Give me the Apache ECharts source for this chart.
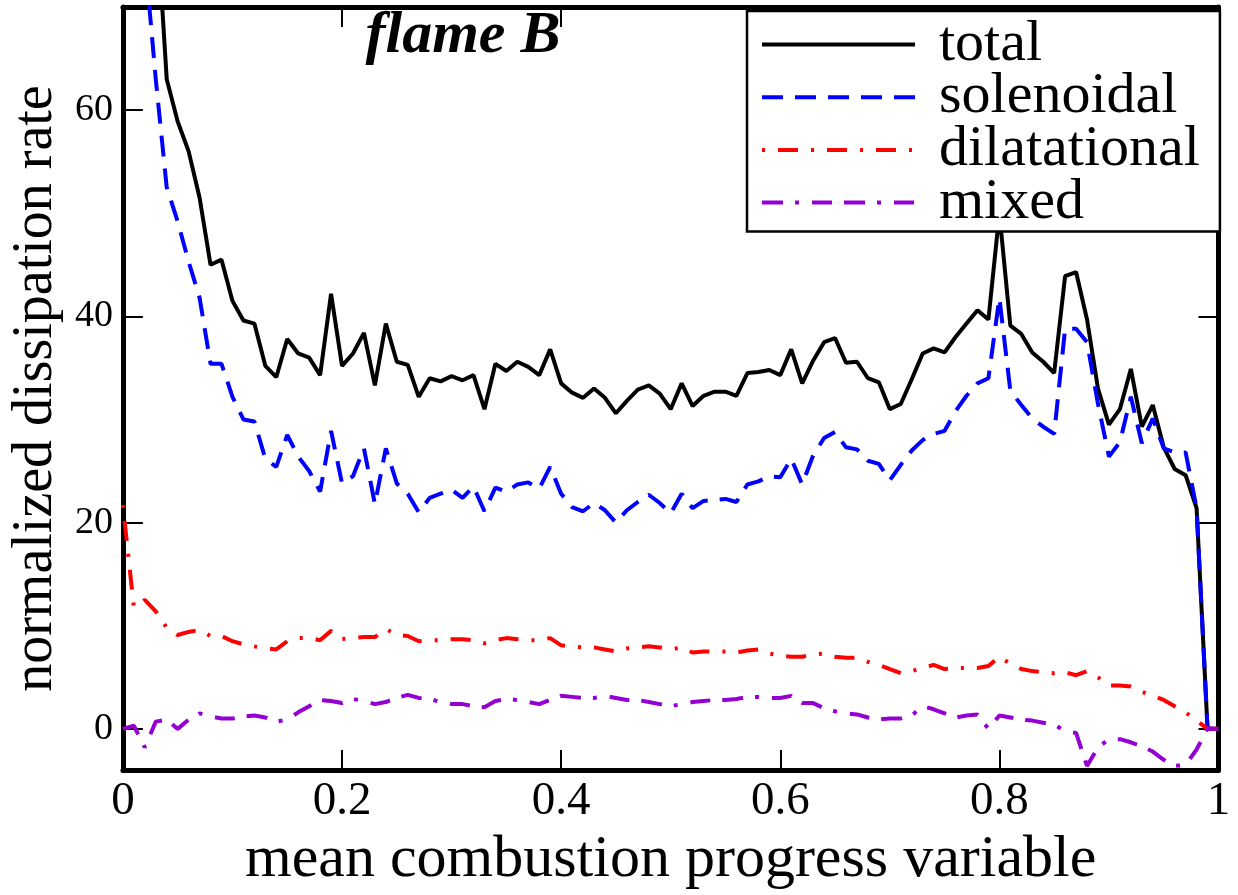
<!DOCTYPE html>
<html><head><meta charset="utf-8">
<script src="https://cdn.jsdelivr.net/npm/echarts@6/dist/echarts.min.js"></script>
<style>html,body{margin:0;padding:0;background:#fff}#c{width:1238px;height:895px}</style>
</head><body><div id="c"></div>
<script>
const progress = [0,0.01,0.02,0.03,0.04,0.05,0.06,0.07,0.08,0.09,
 0.10,0.11,0.12,0.13,0.14,0.15,0.16,0.17,0.18,0.19,
 0.20,0.21,0.22,0.23,0.24,0.25,0.26,0.27,0.28,0.29,
 0.30,0.31,0.32,0.33,0.34,0.35,0.36,0.37,0.38,0.39,
 0.40,0.41,0.42,0.43,0.44,0.45,0.46,0.47,0.48,0.49,
 0.50,0.51,0.52,0.53,0.54,0.55,0.56,0.57,0.58,0.59,
 0.60,0.61,0.62,0.63,0.64,0.65,0.66,0.67,0.68,0.69,
 0.70,0.71,0.72,0.73,0.74,0.75,0.76,0.77,0.78,0.79,
 0.80,0.81,0.82,0.83,0.84,0.85,0.86,0.87,0.88,0.89,
 0.90,0.91,0.92,0.93,0.94,0.95,0.96,0.97,0.98,0.99,
 1.00];
const total = [140,118,97,80,63,58.9,56,51.5,45,45.5,
 41.5,39.6,39.3,35.2,34.1,37.8,36.4,36.0,34.3,42.2,
 35.2,36.4,38.4,33.3,39.3,35.6,35.3,32.2,34.0,33.7,
 34.2,33.8,34.3,31.0,35.4,34.7,35.6,35.1,34.3,36.8,
 33.5,32.6,32.1,33.0,32.1,30.6,31.8,32.9,33.3,32.5,
 31.0,33.5,31.3,32.3,32.7,32.7,32.3,34.5,34.6,34.8,
 34.3,36.8,33.5,35.7,37.5,37.9,35.5,35.6,34.0,33.6,
 31.0,31.5,33.9,36.4,36.9,36.5,38.0,39.3,40.6,39.7,
 50.0,39.1,38.3,36.5,35.6,34.5,43.9,44.3,39.7,33.0,
 29.5,31.0,34.9,29.3,31.4,27.3,25.2,24.6,21.4,0,
 0];
const solenoidal = [115,95,75,63,52.5,49.2,45.3,41.8,35.4,35.4,
 32.2,30.0,29.8,26.2,25.4,28.5,26.4,25.0,23.0,28.9,
 23.8,24.5,27.2,21.8,27.2,23.8,22.8,21.0,22.4,22.8,
 23.2,22.4,23.5,21.1,23.4,23.0,23.7,23.9,23.3,25.4,
 22.8,21.5,21.1,21.9,21.2,20.0,21.2,22.0,22.7,21.9,
 20.9,22.8,21.4,22.1,22.2,22.3,22.0,23.7,24.0,24.5,
 24.4,26.2,23.7,26.5,28.2,28.8,27.3,27.1,26.0,25.7,
 24.1,25.6,27.0,28.0,28.6,28.9,30.8,32.3,33.5,34.0,
 41.8,32.8,31.4,30.1,29.3,28.6,38.8,38.8,37.5,31.5,
 26.4,27.8,32.2,27.7,30.1,27.2,26.8,26.8,21.4,0,
 0];
const dilatational = [21.7,11.8,12.5,11.4,9.8,9.1,9.4,9.6,9.0,9.0,
 8.5,8.2,8.0,7.8,7.7,8.5,8.8,8.8,8.6,9.5,
 8.7,8.8,8.9,8.9,9.7,9.1,9.0,8.5,8.6,8.6,
 8.7,8.7,8.6,8.3,8.6,8.8,8.7,8.6,8.6,8.8,
 8.1,8.0,7.9,7.9,7.7,7.5,7.8,7.9,8.0,7.9,
 7.7,7.9,7.4,7.5,7.5,7.5,7.4,7.6,7.7,7.3,
 7.1,7.0,7.0,7.2,7.3,7.0,6.9,6.9,6.5,6.2,
 5.8,5.4,5.6,5.9,6.2,5.8,5.9,5.9,5.9,6.1,
 7.0,6.3,5.8,5.6,5.5,5.4,5.5,5.2,5.6,5.0,
 4.2,4.2,4.1,3.6,3.2,2.8,2.2,1.6,0.8,0,
 0];
const mixed = [0.0,0.3,-1.8,0.7,0.9,0.0,0.9,1.5,1.2,1.0,
 1.0,1.2,1.3,1.1,0.7,0.9,1.6,2.2,2.8,2.7,
 2.5,2.9,2.7,2.4,2.6,3.0,3.3,3.0,2.9,2.6,
 2.4,2.4,2.2,2.1,2.7,2.9,2.8,2.6,2.4,2.8,
 3.2,3.1,3.0,3.0,3.2,3.0,2.8,2.8,2.6,2.4,
 2.2,2.4,2.6,2.7,2.8,2.8,2.9,3.1,3.1,3.0,
 3.0,3.2,2.5,2.5,2.0,1.7,1.5,1.4,1.1,0.9,
 1.0,1.0,1.3,2.2,1.9,1.5,1.1,1.3,1.4,0.0,
 1.3,1.1,0.9,0.8,0.6,0.4,-0.2,-0.4,-3.6,-1.8,
 -1.0,-1.0,-1.3,-1.7,-2.2,-3.0,-3.6,-3.5,-2.0,0,
 0];
const xTicks = [0,0.2,0.4,0.6,0.8,1];
const yTicks = [0,20,40,60];
const seriesNames = ['total','solenoidal','dilatational','mixed'];
const titleText = 'flame B';
const xName = 'mean combustion progress variable';
const yName = 'normalized dissipation rate';

const FONT = "'Liberation Serif','Times New Roman',serif";
function pairs(v){ return progress.map((x,i)=>[x, v[i]]); }

const styles = {
  total: {color:'#000000', type:'solid'},
  solenoidal: {color:'#0000ff', type:[21,12]},
  dilatational: {color:'#ff0000', type:[3,13,20,13]},
  mixed: {color:'#9400d3', type:[21,12,4,13,20,12]}
};
const values = {total, solenoidal, dilatational, mixed};

const axisLine = {show:true, onZero:false, lineStyle:{color:'#000', width:5}};
const tick = (vals)=>({show:true, inside:true, length:20, customValues:vals, lineStyle:{color:'#000', width:2}});

const chart = echarts.init(document.getElementById('c'), null, {renderer:'canvas'});
chart.setOption({
  animation:false,
  backgroundColor:'#fff',
  grid:{left:122.5, right:19.5, top:7, bottom:120.5, containLabel:false},
  title:{text:titleText, left:458, top:1, textAlign:'center',
    textStyle:{fontFamily:FONT, fontSize:60, fontWeight:'bold', fontStyle:'italic', color:'#000'}},
  legend:{
    show:true,
    orient:'vertical', left:747, top:11,
    backgroundColor:'#fff', borderColor:'#000', borderWidth:2.5, borderRadius:0,
    padding:[4.5,20,0,13],
    itemWidth:153, itemHeight:1, itemGap:-5.3,
    lineStyle:{width:4},
    textStyle:{fontFamily:FONT, fontSize:58, color:'#000', padding:[0,0,0,19]},
    data: seriesNames
  },
  xAxis:[
    {type:'value', min:0, max:1, position:'bottom',
     axisLine, axisTick:tick(xTicks), splitLine:{show:false},
     axisLabel:{customValues:xTicks, fontFamily:FONT, fontSize:47, color:'#000', margin:8},
     name:xName, nameLocation:'middle', nameGap:50,
     nameTextStyle:{fontFamily:FONT, fontSize:60, color:'#000'}},
    {type:'value', min:0, max:1, position:'top',
     axisLine, axisTick:tick(xTicks), splitLine:{show:false}, axisLabel:{show:false}}
  ],
  yAxis:[
    {type:'value', min:-4, max:70, position:'left',
     axisLine, axisTick:tick(yTicks), splitLine:{show:false},
     axisLabel:{customValues:yTicks, fontFamily:FONT, fontSize:38, color:'#000', margin:10},
     name:yName, nameLocation:'middle', nameGap:56,
     nameTextStyle:{fontFamily:FONT, fontSize:56, color:'#000'}},
    {type:'value', min:-4, max:70, position:'right',
     axisLine, axisTick:tick(yTicks), splitLine:{show:false}, axisLabel:{show:false}}
  ],
  series: seriesNames.map(n=>({
    name:n, type:'line', xAxisIndex:0, yAxisIndex:0, symbol:'none', clip:true,
    data:pairs(values[n]),
    lineStyle:{color:styles[n].color, width:4, type:styles[n].type},
    itemStyle:{color:styles[n].color}
  }))
});
</script></body></html>
